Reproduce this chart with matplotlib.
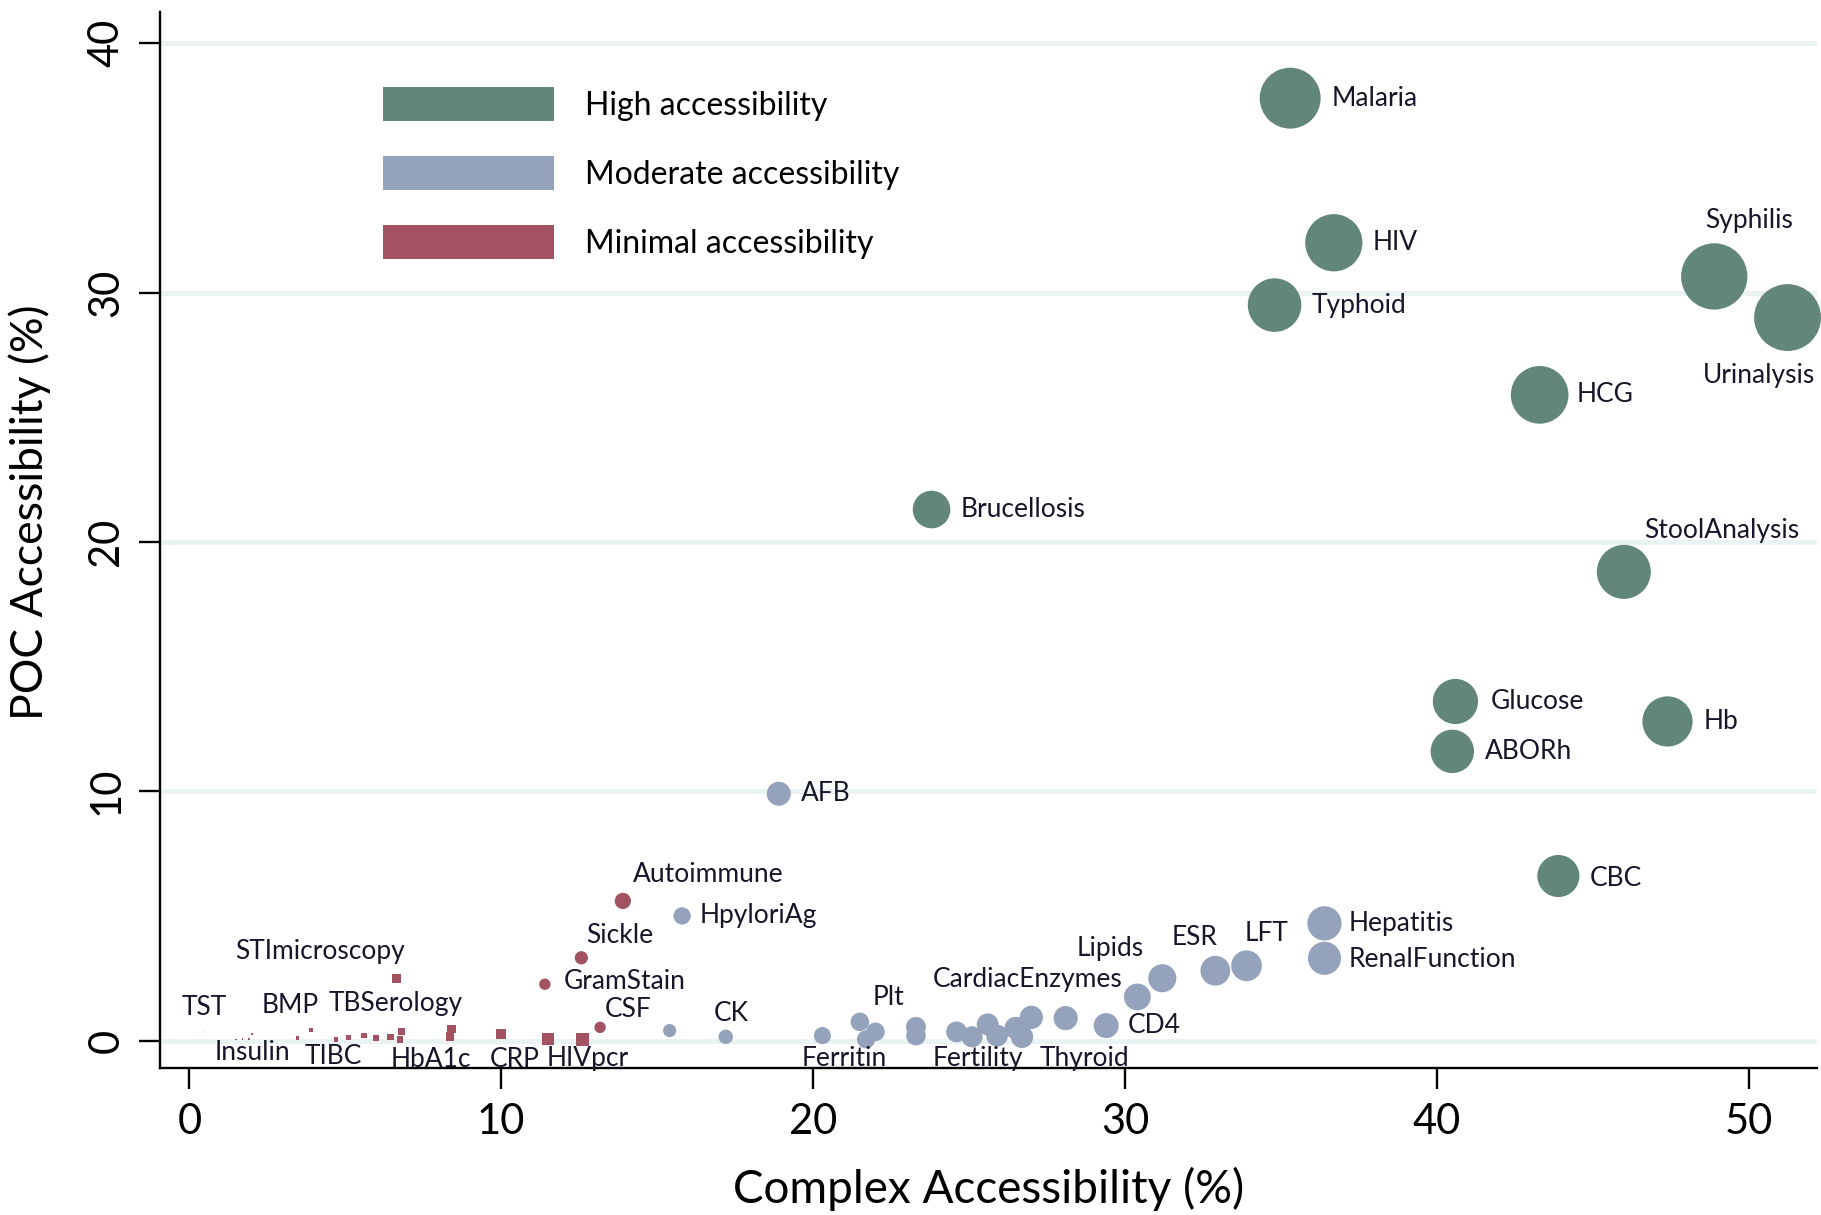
import numpy as np
import matplotlib
matplotlib.use("Agg")
import matplotlib.pyplot as plt
from matplotlib.patches import Patch

plt.rcParams['font.family'] = ['Lato', 'DejaVu Sans']

# ---- data (complex accessibility %, POC accessibility %) ----
high_names = ['Malaria', 'HIV', 'Typhoid', 'Syphilis', 'Urinalysis', 'HCG', 'Brucellosis',
              'StoolAnalysis', 'Glucose', 'ABORh', 'Hb', 'CBC', '']
high_x = [35.3, 36.7, 34.8, 48.9, 51.25, 43.3, 23.8, 46.0, 40.6, 40.5, 47.4, 43.9, 0.16]
high_y = [37.8, 32.0, 29.5, 30.65, 29.0, 25.9, 21.3, 18.8, 13.6, 11.6, 12.8, 6.6, 0.03]

mod_names = ['AFB', 'HpyloriAg', 'Hepatitis', 'RenalFunction', 'LFT', 'ESR', 'Lipids',
             'CardiacEnzymes', 'CD4', '', 'Thyroid', '', '', '', '', 'Fertility', '',
             '', '', '', 'Plt', '', 'Ferritin', 'CK', '']
mod_x = [18.9, 15.8, 36.4, 36.4, 33.9, 32.9, 31.2, 30.4, 29.4, 27.0, 28.1, 26.7, 26.5, 25.9,
         25.6, 25.1, 24.6, 23.3, 23.3, 21.5, 22.0, 21.7, 20.3, 17.2, 15.4]
mod_y = [9.9, 5.0, 4.7, 3.3, 3.0, 2.8, 2.5, 1.75, 0.6, 0.93, 0.9, 0.15, 0.5, 0.2,
         0.65, 0.15, 0.35, 0.55, 0.2, 0.75, 0.35, 0.05, 0.2, 0.15, 0.4]

min_names = ['Autoimmune', 'Sickle', 'GramStain', 'CSF', 'TST', '', '', '']
min_x = [13.9, 12.57, 11.4, 13.17, 0.35, 0.2, 0.45, 0.3]
min_y = [5.6, 3.32, 2.26, 0.53, 0.2, 0.3, 0.35, 0.1]

sq_names = ['STImicroscopy', 'Insulin', '', '', '', 'BMP', '', 'TIBC', '', '', '', '',
            'TBSerology', 'HbA1c', '', '', 'CRP', '', 'HIVpcr']
sq_x = [6.64, 1.5, 1.7, 1.9, 2.0, 3.46, 3.9, 4.7, 5.1, 5.6, 6.0, 6.45, 6.8, 6.75,
        8.4, 8.35, 10.0, 11.5, 12.6]
sq_y = [2.5, 0.05, 0.05, 0.05, 0.26, 0.1, 0.42, 0.03, 0.13, 0.2, 0.12, 0.15, 0.36, 0.04,
        0.46, 0.17, 0.26, 0.07, 0.04]

green = '#62877A'
blue = '#94A2BC'
red = '#A25261'

# label placement: (ha, dx, dy) in reference pixels, dy up
lab_pos = {
    'Malaria': ('left', 36, 0), 'HIV': ('left', 33, 0), 'Typhoid': ('left', 32, 0),
    'Syphilis': ('center', 30, 48), 'Urinalysis': ('center', -25, -50), 'HCG': ('left', 32, 0),
    'Brucellosis': ('left', 25, 0), 'StoolAnalysis': ('center', 84, 36),
    'Glucose': ('left', 30, 0), 'ABORh': ('left', 28, 0), 'Hb': ('left', 31, 0),
    'CBC': ('left', 27, -2),
    'AFB': ('left', 19, 0), 'HpyloriAg': ('left', 15, 0), 'Hepatitis': ('left', 21, 0),
    'RenalFunction': ('left', 21, -1), 'LFT': ('center', 17, 28), 'ESR': ('center', -18, 29),
    'Lipids': ('center', -45, 26), 'CardiacEnzymes': ('right', -13, 15), 'CD4': ('left', 19, 0),
    'Thyroid': ('center', 16, -35), 'Fertility': ('center', 5, -19), 'Plt': ('center', 11, 30),
    'Ferritin': ('center', 19, -20), 'CK': ('center', 5, 20),
    'Autoimmune': ('left', 9, 23), 'Sickle': ('left', 4, 19), 'GramStain': ('left', 16, 2),
    'CSF': ('left', 4, 15), 'TST': ('center', 3, 24),
    'STImicroscopy': ('center', -66, 23), 'Insulin': ('center', 14, -11), 'BMP': ('center', -6, 28),
    'TIBC': ('center', -2, -14), 'TBSerology': ('center', -5, 24), 'HbA1c': ('center', 27, -17),
    'CRP': ('center', 12, -22), 'HIVpcr': ('center', 5, -16),
}
PX = 0.836  # reference px -> points


def bubble(x, y):
    # marker area grows with total accessibility
    return (0.6 * (np.array(x) + np.array(y))) ** 2


fig = plt.figure(figsize=(18.21, 12.15), dpi=100)
ax = fig.add_axes([0.0879, 0.121, 0.910, 0.869])

for v in [0, 10, 20, 30, 40]:
    ax.axhline(v, color='#EAF2F3', lw=3.5, zorder=0)

ax.scatter(high_x, high_y, s=bubble(high_x, high_y), c=green, lw=0, zorder=3, clip_on=False)
ax.scatter(mod_x, mod_y, s=bubble(mod_x, mod_y), c=blue, lw=0, zorder=3, clip_on=False)
ax.scatter(min_x, min_y, s=bubble(min_x, min_y), c=red, lw=0, zorder=3, clip_on=False)
ax.scatter(sq_x, sq_y, s=1.4 * bubble(sq_x, sq_y), c=red, marker='s', lw=0, zorder=3,
           clip_on=False)

for names, xs, ys in [(high_names, high_x, high_y), (mod_names, mod_x, mod_y),
                      (min_names, min_x, min_y), (sq_names, sq_x, sq_y)]:
    for n, x, y in zip(names, xs, ys):
        if not n:
            continue
        ha, dx, dy = lab_pos[n]
        ax.annotate(n, (x, y), xytext=(dx * PX, dy * PX), textcoords='offset points',
                    ha=ha, va='center', fontsize=19, color='#16162a', zorder=4,
                    annotation_clip=False)

ax.set_xlim(-0.94, 52.2)
ax.set_ylim(-1.1, 41.25)
ax.set_xticks([0, 10, 20, 30, 40, 50])
ax.set_yticks([0, 10, 20, 30, 40])
for s in ['top', 'right']:
    ax.spines[s].set_visible(False)
for s in ['left', 'bottom']:
    ax.spines[s].set_linewidth(1.7)
ax.tick_params(length=15, width=1.7, pad=10, labelsize=30)
plt.setp(ax.get_yticklabels(), rotation=90, va='center')

ax.set_xlabel('Complex Accessibility (%)', fontsize=33, labelpad=19)
ax.set_ylabel('POC Accessibility (%)', fontsize=32)
ax.yaxis.set_label_coords(-0.066, 0.526)

handles = [Patch(facecolor=green, edgecolor='none'), Patch(facecolor=blue, edgecolor='none'),
           Patch(facecolor=red, edgecolor='none')]
ax.legend(handles, ['High accessibility', 'Moderate accessibility', 'Minimal accessibility'],
          loc='upper left', bbox_to_anchor=(0.1346, 0.929), frameon=False,
          prop={'size': 23}, handlelength=5.36, handleheight=1.25, handletextpad=0.95,
          labelspacing=1.1, borderpad=0, borderaxespad=0)

fig.savefig('out.png', dpi=100)
